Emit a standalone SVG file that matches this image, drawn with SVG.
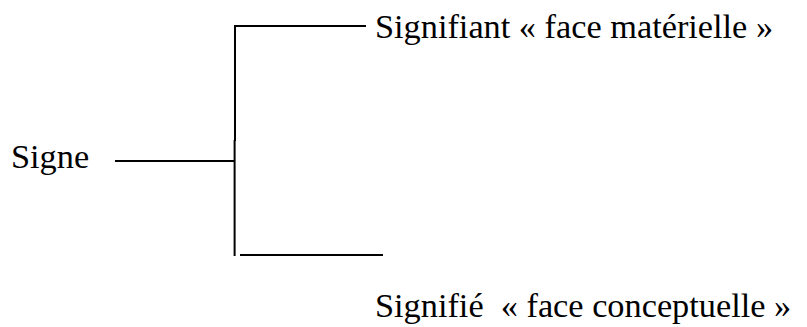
<svg xmlns="http://www.w3.org/2000/svg" width="807" height="327" viewBox="0 0 807 327">
<style>
text{font-family:"Liberation Serif","Times New Roman",serif;font-size:34.3px;fill:#000}
.c{stroke:#000;stroke-width:2;fill:none}
</style>
<rect width="807" height="327" fill="#fff"/>
<g id="connectors">
<polyline class="c" points="366,26 235,26 235,141"/>
<line class="c" x1="234.6" y1="140" x2="234.6" y2="256"/>
<line class="c" x1="115" y1="161" x2="235" y2="161"/>
<line class="c" x1="240" y1="255" x2="383" y2="255"/>
</g>
<g id="signe"><text x="11" y="168">Signe</text></g>
<g id="signifiant"><text x="375" y="38">Signifiant « face matérielle »</text></g>
<g id="signifie"><text x="375" y="317" xml:space="preserve">Signifié  « face conceptuelle »</text></g>
</svg>
